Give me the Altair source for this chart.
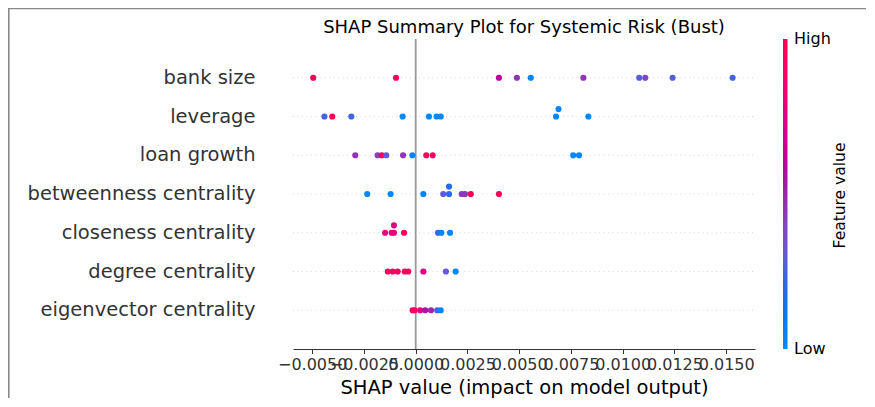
import altair as alt
import pandas as pd
import numpy as np

# ---------------- data ----------------
features = ["bank size", "leverage", "loan growth", "betweenness centrality",
            "closeness centrality", "degree centrality", "eigenvector centrality"]

bank_size_shap = [-0.00495, -0.00095, 0.00402, 0.00489, 0.00556, 0.00810, 0.01080, 0.01109, 0.01241, 0.01531]
bank_size_val = [0.97, 0.95, 0.62, 0.45, 0.02, 0.45, 0.28, 0.40, 0.28, 0.25]
bank_size_layer = [0, 0, 0, 0, 0, 0, 0, 0, 0, 0]

leverage_shap = [-0.00441, -0.00403, -0.00311, -0.00063, 0.00064, 0.00101, 0.00121, 0.00678, 0.00690, 0.00834]
leverage_val = [0.25, 0.97, 0.25, 0.03, 0.03, 0.02, 0.03, 0.02, 0.02, 0.03]
leverage_layer = [0, 0, 0, 0, 0, 0, 0, 0, 1, 0]

loan_growth_shap = [-0.00292, -0.00184, -0.00164, -0.00142, -0.00061, -0.00016, 0.00051, 0.00082, 0.00761, 0.00789]
loan_growth_val = [0.45, 0.40, 0.95, 0.30, 0.45, 0.05, 0.95, 0.93, 0.02, 0.02]
loan_growth_layer = [0, 0, 0, 0, 0, 0, 0, 0, 0, 0]

betweenness_shap = [-0.00234, -0.00121, 0.00037, 0.00133, 0.00161, 0.00161, 0.00222, 0.00238, 0.00266, 0.00402]
betweenness_val = [0.02, 0.02, 0.05, 0.30, 0.20, 0.20, 0.42, 0.45, 0.95, 0.97]
betweenness_layer = [0, 0, 0, 0, 0, 1, 0, 0, 0, 0]

closeness_shap = [-0.00148, -0.00116, -0.00105, -0.00105, -0.00056, 0.00108, 0.00124, 0.00166]
closeness_val = [0.80, 0.80, 0.80, 0.78, 0.95, 0.22, 0.05, 0.03]
closeness_layer = [0, 0, 0, 1, 0, 0, 0, 0]

degree_shap = [-0.00135, -0.00111, -0.00087, -0.00053, -0.00036, 0.00037, 0.00146, 0.00193]
degree_val = [0.95, 0.92, 0.95, 0.92, 0.95, 0.72, 0.30, 0.03]
degree_layer = [0, 0, 0, 0, 0, 0, 0, 0]

eigenvector_shap = [-0.00015, -0.00005, 0.00022, 0.00046, 0.00074, 0.00104, 0.00121]
eigenvector_val = [0.97, 0.90, 0.80, 0.55, 0.50, 0.25, 0.05]
eigenvector_layer = [0, 0, 0, 0, 0, 0, 0]

x_ticks = [-0.005, -0.0025, 0.0, 0.0025, 0.005, 0.0075, 0.01, 0.0125, 0.015]
legend_labels = ["Low", "High"]
title_text = "SHAP Summary Plot for Systemic Risk (Bust)"
colorbar_title = "Feature value"

series = [
    (bank_size_shap, bank_size_val, bank_size_layer),
    (leverage_shap, leverage_val, leverage_layer),
    (loan_growth_shap, loan_growth_val, loan_growth_layer),
    (betweenness_shap, betweenness_val, betweenness_layer),
    (closeness_shap, closeness_val, closeness_layer),
    (degree_shap, degree_val, degree_layer),
    (eigenvector_shap, eigenvector_val, eigenvector_layer),
]
rows = []
for feat, (s, v, l) in zip(features, series):
    for a, b, c in zip(s, v, l):
        rows.append({"feature": feat, "shap": a, "value": b, "layer": c})
df = pd.DataFrame(rows)
df_feat = pd.DataFrame({"feature": features})
dummy = pd.DataFrame({"a": [0]})

# ---------------- SHAP red_blue colormap (LCH interpolation) ----------------
def lch_to_hex(L, C, h):
    a = C * np.cos(h)
    b = C * np.sin(h)
    fy = (L + 16) / 116
    fx = fy + a / 500
    fz = fy - b / 200

    def finv(t):
        return t ** 3 if t ** 3 > 0.008856 else (t - 16 / 116) / 7.787

    X = 0.95047 * finv(fx)
    Y = finv(fy)
    Z = 1.08883 * finv(fz)
    r = 3.2406 * X - 1.5372 * Y - 0.4986 * Z
    g = -0.9689 * X + 1.8758 * Y + 0.0415 * Z
    bb = 0.0557 * X - 0.2040 * Y + 1.0570 * Z

    def gam(c):
        c = max(0.0, min(1.0, c))
        return 12.92 * c if c <= 0.0031308 else 1.055 * c ** (1 / 2.4) - 0.055

    return "#%02x%02x%02x" % tuple(int(round(gam(c) * 255)) for c in (r, g, bb))


stops = np.linspace(0, 1, 11)
cols = []
for t in stops:
    L = 54 + (40 - 54) * 2 * t if t <= 0.5 else 40 + (54 - 40) * (2 * t - 1)
    C = 70 + 20 * t
    h = 4.6588 + t * (0.35470565 + 2 * np.pi - 4.6588)
    cols.append(lch_to_hex(L, C, h))

# ---------------- layout ----------------
W, H = 462, 310
PL, PT = 285, 31
CW, CH = 858, 390
STEP = H / 8.0
x0_px = 122.7
ppu = 20700.0
xmin = -x0_px / ppu
xmax = (W - x0_px) / ppu
LEG_X = 490

FONT = "DejaVu Sans"

xscale = alt.Scale(domain=[xmin, xmax], nice=False, zero=False)
xenc = alt.X("shap:Q",
             scale=xscale,
             axis=alt.Axis(values=x_ticks, format=".4f",
                           title="SHAP value (impact on model output)",
                           titleFontSize=19.5, titleFontWeight="normal", titleColor="#000",
                           titleBaseline="alphabetic", titleY=44,
                           labelFontSize=16, labelColor="#333", labelPadding=3,
                           labelOverlap=False, labelFlush=False, labelBound=False,
                           tickSize=4.5, tickColor="#333", tickWidth=1,
                           domainColor="#333", domainWidth=1.2, grid=False))

yenc = alt.Y("feature:N",
             sort=features,
             scale=alt.Scale(domain=features, paddingInner=0, paddingOuter=0.5),
             axis=alt.Axis(title=None, ticks=False, domain=False, grid=False,
                           labelFontSize=19.5, labelColor="#333", labelPadding=38,
                           labelBaseline="middle", labelLimit=0))

row_lines = alt.Chart(df_feat).mark_rule(
    color="#cccccc", strokeDash=[1, 3.5], strokeWidth=0.8
).encode(y=yenc, x=alt.value(0), x2=alt.value(W))

zero_line = alt.Chart(dummy).mark_rule(color="#999999", strokeWidth=1.8).encode(
    x=alt.X(datum=0, type="quantitative", scale=xscale)
)

points = alt.Chart(df).mark_circle(size=38, opacity=1, strokeWidth=0).encode(
    x=xenc,
    y=yenc,
    yOffset=alt.YOffset("layer:Q", scale=alt.Scale(domain=[0, 1], range=[STEP / 2, STEP / 2 - 7.4])),
    color=alt.Color("value:Q",
                    scale=alt.Scale(domain=list(stops), range=cols, interpolate="rgb"),
                    legend=alt.Legend(orient="none", legendX=LEG_X, legendY=0,
                                      direction="vertical", title=None,
                                      gradientLength=H, gradientThickness=4.5,
                                      gradientStrokeWidth=0,
                                      values=[0, 1], labelExpr="''")),
)

leg_hi = alt.Chart(dummy).mark_text(
    text=legend_labels[1], fontSize=16, font=FONT, color="#000", align="left", baseline="middle"
).encode(x=alt.value(LEG_X + 11), y=alt.value(0))
leg_lo = alt.Chart(dummy).mark_text(
    text=legend_labels[0], fontSize=16, font=FONT, color="#000", align="left", baseline="middle"
).encode(x=alt.value(LEG_X + 11), y=alt.value(H))

border_left = alt.Chart(dummy).mark_rule(color="#888888", strokeWidth=1.6).encode(
    x=alt.value(-PL + 0.8), y=alt.value(-PT), y2=alt.value(CH - PT)
)
border_top = alt.Chart(dummy).mark_rule(color="#888888", strokeWidth=1.2).encode(
    x=alt.value(-PL), x2=alt.value(CW - PL), y=alt.value(-PT + 0.6)
)

fv_text = alt.Chart(dummy).mark_text(
    text=colorbar_title, angle=270, fontSize=15.5, font=FONT, color="#000",
    align="center", baseline="alphabetic"
).encode(x=alt.value(552), y=alt.value(156.5))

title_mark = alt.Chart(dummy).mark_text(
    text=title_text, fontSize=18, font=FONT, color="#000",
    align="center", baseline="alphabetic"
).encode(x=alt.value(W / 2), y=alt.value(-6))

chart = alt.layer(row_lines, zero_line, points, leg_hi, leg_lo,
                  border_left, border_top, fv_text, title_mark).properties(
    width=W, height=H,
    autosize=alt.AutoSizeParams(type="none"),
    padding={"left": PL, "top": PT, "right": CW - PL - W, "bottom": CH - PT - H},
).configure(font=FONT).configure_view(stroke=None).configure_axis(labelFont=FONT, titleFont=FONT)

chart.save("out.html", embed_options={"renderer": "svg", "actions": False})
